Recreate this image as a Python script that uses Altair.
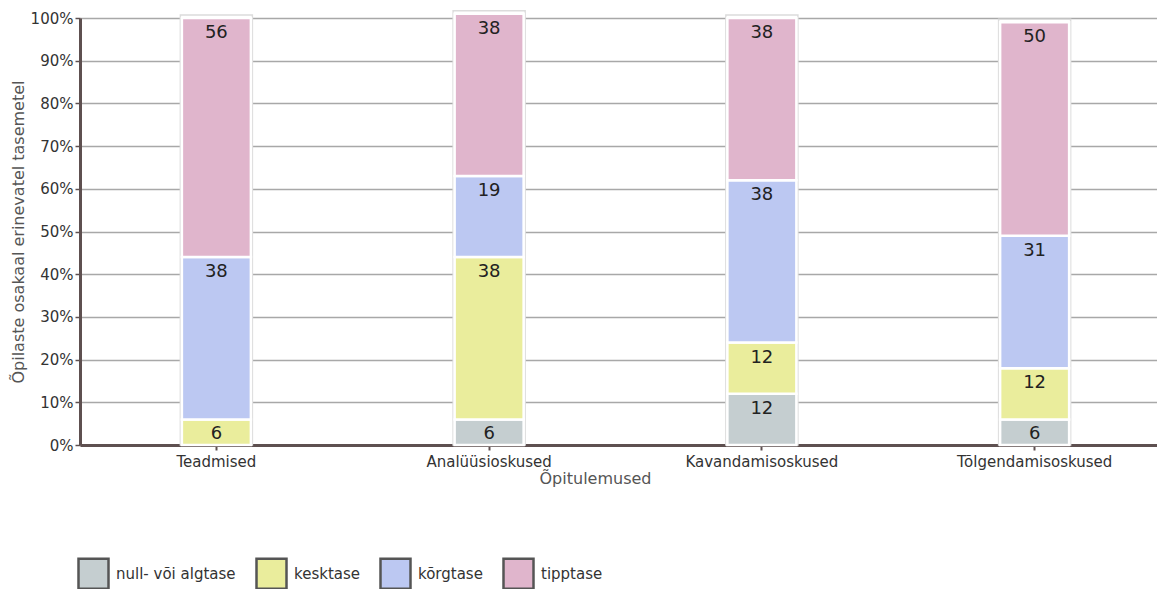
import altair as alt
import pandas as pd

categories = ["Teadmised", "Analüüsioskused", "Kavandamisoskused", "Tõlgendamisoskused"]
levels = ["null- või algtase", "kesktase", "kõrgtase", "tipptase"]
null_vals = [0, 6, 12, 6]
kesk_vals = [6, 38, 12, 12]
korg_vals = [38, 19, 38, 31]
tipp_vals = [56, 38, 38, 50]
colors = ["#c5ced0", "#eaed9c", "#bcc8f2", "#e0b5cc"]
y_ticks = [0, 10, 20, 30, 40, 50, 60, 70, 80, 90, 100]

rows = []
for i, c in enumerate(categories):
    for j, (lvl, vals) in enumerate(zip(levels, [null_vals, kesk_vals, korg_vals, tipp_vals])):
        rows.append({"cat": c, "level": lvl, "order": j, "value": vals[i]})
df = pd.DataFrame(rows)

FONT = "DejaVu Sans"

x_enc = alt.X("cat:N", sort=categories, title="Õpitulemused",
              scale=alt.Scale(paddingOuter=0, paddingInner=0, range=[0, 1091]),
              axis=alt.Axis(labelAngle=0, labelFontSize=15, labelColor="#333",
                            titleFontSize=16, titleColor="#555", titleFontWeight="normal",
                            titlePadding=1, titleX=515, domainColor="#5e5050", domainWidth=3,
                            tickColor="#5e5050", tickSize=5, tickWidth=2, labelPadding=4,
                            grid=False))

y_scale = alt.Scale(domain=[0, 100], nice=False)

background = alt.Chart(df).transform_aggregate(
    total="sum(value)", groupby=["cat"]
).transform_calculate(top="datum.total + 0.7").mark_bar(
    size=72, fill="white", stroke="#dcdcdc", strokeWidth=1.5
).encode(
    x=x_enc,
    y=alt.Y("top:Q", scale=y_scale),
    y2=alt.datum(0),
)

bars = alt.Chart(df).transform_filter("datum.value > 0").mark_bar(
    size=69, stroke="white", strokeWidth=2.5
).encode(
    x=alt.X("cat:N", sort=categories),
    y=alt.Y("value:Q", stack="zero", scale=y_scale,
            title="Õpilaste osakaal erinevatel tasemetel",
            axis=alt.Axis(values=y_ticks, labelExpr="datum.value + '%'",
                          labelFontSize=15, labelColor="#333", titleFontSize=16,
                          titleColor="#555", titleFontWeight="normal",
                          domainColor="#5e5050", domainWidth=3, tickColor="#5e5050",
                          tickSize=5, tickWidth=1.5, gridColor="#a8a8a8", gridWidth=1.5,
                          labelPadding=2, titlePadding=4)),
    color=alt.Color("level:N", sort=levels, scale=alt.Scale(domain=levels, range=colors),
                    legend=alt.Legend(title=None, orient="none", direction="horizontal",
                                      legendX=-3, legendY=539,
                                      symbolType="square", symbolSize=900,
                                      symbolStrokeColor="#555", symbolStrokeWidth=2.5,
                                      labelFontSize=15, labelColor="#333",
                                      symbolOpacity=1, columnPadding=15,
                                      labelOffset=6)),
    order=alt.Order("order:Q"),
)

labels = alt.Chart(df).transform_filter("datum.value > 0").transform_stack(
    stack="value", groupby=["cat"], as_=["v0", "v1"], sort=[alt.SortField("order")]
).mark_text(fontSize=18, color="#222", baseline="middle", dy=15, font=FONT).encode(
    x=alt.X("cat:N", sort=categories),
    y=alt.Y("v1:Q", scale=y_scale),
    text=alt.Text("value:Q"),
)

chart = alt.layer(background, bars, labels).properties(
    width=1077, height=427,
    autosize=alt.AutoSizeParams(type="none"),
    padding={"left": 72, "top": 10, "right": 0, "bottom": 145},
).configure(font=FONT).configure_view(stroke=None)

chart.save("out.html", embed_options={"renderer": "svg", "actions": False})
